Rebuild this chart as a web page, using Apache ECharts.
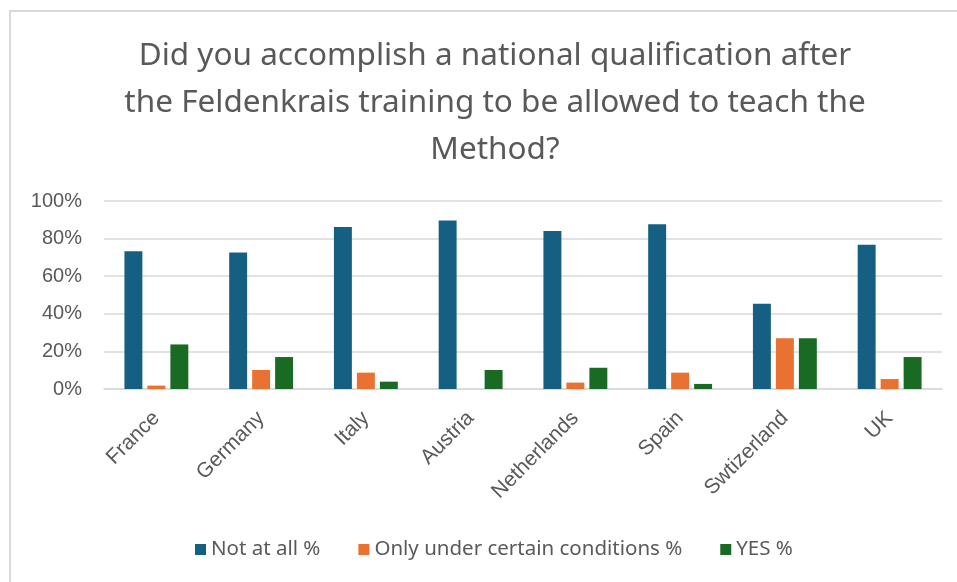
<!DOCTYPE html>
<html>
<head>
<meta charset="utf-8">
<script src="https://cdn.jsdelivr.net/npm/echarts@6/dist/echarts.min.js"></script>
<style>
  html, body { margin: 0; padding: 0; background: #fff; }
  #chart { width: 957px; height: 582px; }
</style>
</head>
<body>
<div id="chart"></div>
<script>
// data
var countries = ['France', 'Germany', 'Italy', 'Austria', 'Netherlands', 'Spain', 'Swtizerland', 'UK'];
var notAtAll = [73.3, 72.6, 86.2, 89.6, 84.1, 87.6, 45.4, 76.7];
var onlyUnder = [1.8, 10.1, 8.7, 0, 3.4, 8.7, 27.0, 5.3];
var yes = [23.7, 17.0, 3.9, 10.1, 11.3, 2.7, 27.0, 17.0];
var seriesNames = ['Not at all %', 'Only under certain conditions %', 'YES %'];

var textColor = '#595959';
var font = 'Noto Sans';

var myChart = echarts.init(document.getElementById('chart'));

function bar(name, data, color) {
    return {
        name: name,
        type: 'bar',
        data: data,
        barGap: '28%',
        barCategoryGap: '39%',
        itemStyle: { color: color }
    };
}

myChart.setOption({
    animation: false,
    title: {
        text: 'Did you accomplish a national qualification after\nthe Feldenkrais training to be allowed to teach the\nMethod?',
        left: 490,
        top: 28,
        textAlign: 'center',
        textStyle: {
            fontFamily: font,
            fontSize: 31.5,
            fontWeight: 'normal',
            color: textColor,
            lineHeight: 47
        }
    },
    graphic: [{
        type: 'rect',
        shape: { x: 10, y: 11, width: 1000, height: 1000 },
        style: { fill: 'none', stroke: '#d9d9d9', lineWidth: 2 },
        silent: true
    }],
    legend: {
        data: seriesNames,
        bottom: 17,
        left: 190,
        itemWidth: 11,
        itemHeight: 11,
        itemGap: 38,
        icon: 'rect',
        textStyle: { fontFamily: font, fontSize: 20.5, color: textColor }
    },
    grid: {
        left: 104,
        right: 15,
        top: 201,
        bottom: 193,
        containLabel: false
    },
    xAxis: {
        type: 'category',
        data: countries,
        axisLine: { show: true, lineStyle: { color: '#d9d9d9', width: 1.5 } },
        axisTick: { show: false },
        axisLabel: {
            rotate: 45,
            fontFamily: 'Liberation Sans',
            fontSize: 21,
            color: textColor,
            margin: 26
        }
    },
    yAxis: {
        type: 'value',
        min: 0,
        max: 100,
        interval: 20,
        axisLine: { show: false },
        axisTick: { show: false },
        splitLine: { lineStyle: { color: '#d9d9d9', width: 1.5 } },
        axisLabel: {
            formatter: '{value}%',
            fontFamily: 'Liberation Sans',
            fontSize: 20,
            color: textColor,
            margin: 22
        }
    },
    series: [
        bar(seriesNames[0], notAtAll, '#156082'),
        bar(seriesNames[1], onlyUnder, '#E97132'),
        bar(seriesNames[2], yes, '#196B24')
    ]
});
</script>
</body>
</html>
